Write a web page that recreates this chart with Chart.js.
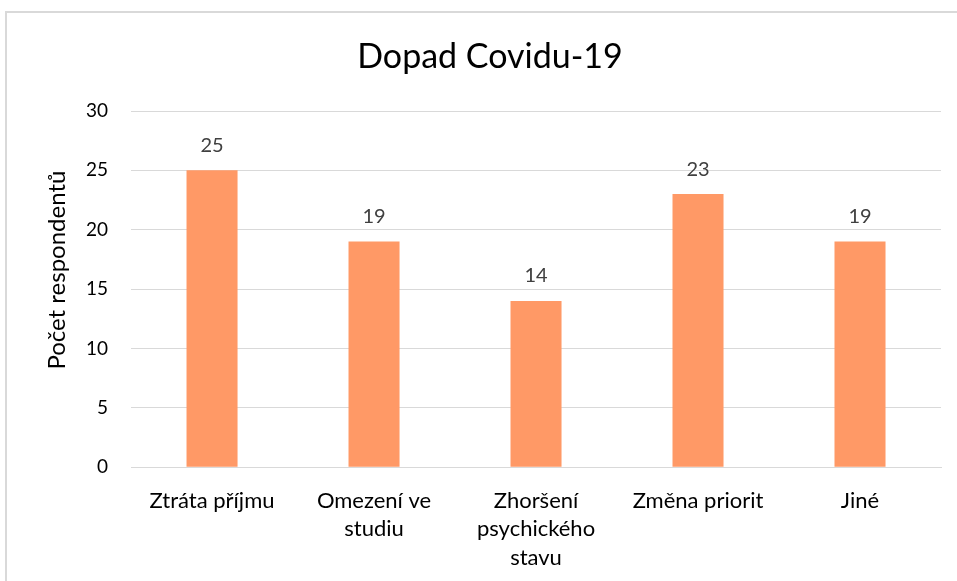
<!DOCTYPE html>
<html>
<head>
<meta charset="utf-8">
<script src="https://cdn.jsdelivr.net/npm/chart.js@4"></script>
<style>
html,body{margin:0;padding:0;background:#fff;overflow:hidden;width:957px;height:581px;}
#frame{position:absolute;left:5px;top:11px;width:1000px;height:1000px;border:2px solid #d9d9d9;box-sizing:border-box;}
#wrap{position:absolute;left:0;top:0;width:957px;height:581px;}
</style>
</head>
<body>
<div id="frame"></div>
<div id="wrap"><canvas id="c" width="957" height="581"></canvas></div>
<script>
const categories = [["Ztráta příjmu"], ["Omezení ve", "studiu"], ["Zhoršení", "psychického", "stavu"], ["Změna priorit"], ["Jiné"]];
const values = [25, 19, 14, 23, 19];
const chartTitle = "Dopad Covidu-19";
const yAxisTitle = "Počet respondentů";

const FONT = "Lato, 'Open Sans', sans-serif";

const valueLabels = {
  id: 'valueLabels',
  afterDatasetsDraw(chart) {
    const ctx = chart.ctx;
    const meta = chart.getDatasetMeta(0);
    ctx.save();
    ctx.fillStyle = '#404040';
    ctx.font = '20px ' + FONT;
    ctx.textAlign = 'center';
    ctx.textBaseline = 'middle';
    meta.data.forEach((bar, i) => {
      ctx.fillText(String(values[i]), bar.x, bar.y - 25);
    });
    ctx.restore();
  }
};

const titles = {
  id: 'titles',
  afterDraw(chart) {
    const ctx = chart.ctx;
    const area = chart.chartArea;
    ctx.save();
    ctx.fillStyle = '#000';
    ctx.textAlign = 'center';
    ctx.textBaseline = 'middle';
    ctx.font = '34px ' + FONT;
    ctx.fillText(chartTitle, 490, 57);
    ctx.translate(57, (area.top + area.bottom) / 2 - 19);
    ctx.rotate(-Math.PI / 2);
    ctx.font = '24px ' + FONT;
    ctx.fillText(yAxisTitle, 0, 0);
    ctx.restore();
  }
};

new Chart(document.getElementById('c'), {
  type: 'bar',
  data: {
    labels: categories,
    datasets: [{
      data: values,
      backgroundColor: '#FF9966',
      borderWidth: 0,
      barPercentage: 0.315,
      categoryPercentage: 1
    }]
  },
  options: {
    responsive: false,
    animation: false,
    devicePixelRatio: 1,
    layout: { padding: { left: 63, right: 16, top: 111, bottom: -10 } },
    plugins: {
      legend: { display: false },
      tooltip: { enabled: false },
      title: { display: false }
    },
    scales: {
      x: {
        grid: { display: false, drawTicks: false },
        border: { display: true, color: '#d9d9d9', width: 1 },
        ticks: { color: '#000', font: { family: FONT, size: 22, lineHeight: 1.3 }, padding: 19, maxRotation: 0, autoSkip: false }
      },
      y: {
        min: 0, max: 30,
        ticks: { stepSize: 5, color: '#000', font: { family: FONT, size: 19 }, padding: 23 },
        grid: { color: '#d9d9d9', lineWidth: 1, drawTicks: false },
        border: { display: false }
      }
    }
  },
  plugins: [valueLabels, titles]
});
</script>
</body>
</html>
